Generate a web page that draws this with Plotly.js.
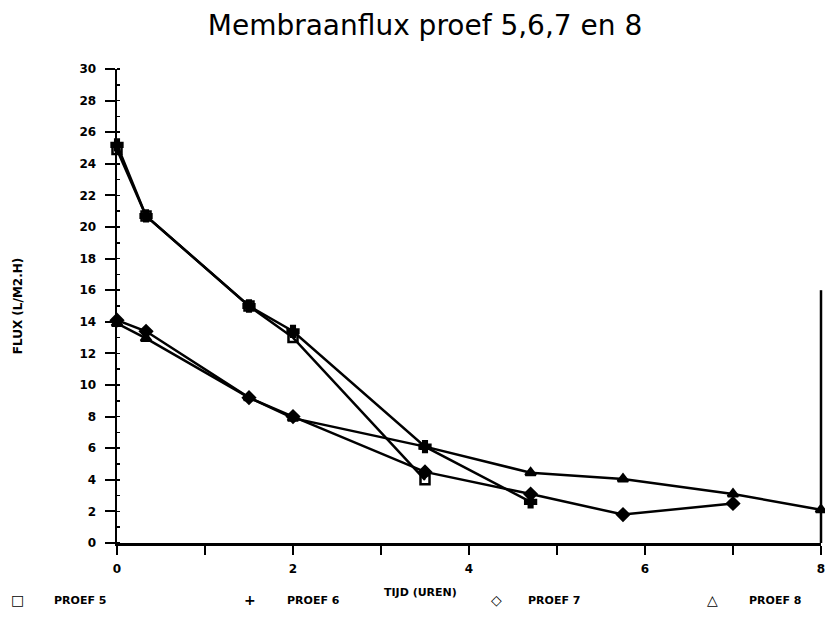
<!DOCTYPE html>
<html>
<head>
<meta charset="utf-8">
<script src="https://cdn.plot.ly/plotly-3.0.1.min.js"></script>
<style>html,body{margin:0;padding:0;background:#fff;}#chart{width:825px;height:623px;}</style>
</head>
<body>
<div id="chart"></div>
<script>
// Data (time in hours, flux in L/m2.h)
const seriesNames = ["PROEF 5", "PROEF 6", "PROEF 7", "PROEF 8"];
const timeP5 = [0, 0.33, 1.5, 2, 3.5];
const fluxP5 = [24.9, 20.7, 15.0, 13.0, 4.0];
const timeP6 = [0, 0.33, 1.5, 2, 3.5, 4.7];
const fluxP6 = [25.2, 20.7, 15.0, 13.4, 6.1, 2.6];
const timeP7 = [0, 0.33, 1.5, 2, 3.5, 4.7, 5.75, 7];
const fluxP7 = [14.1, 13.4, 9.2, 8.0, 4.5, 3.1, 1.8, 2.5];
const timeP8 = [0, 0.33, 1.5, 2, 3.5, 4.7, 5.75, 7, 8];
const fluxP8 = [13.9, 12.95, 9.2, 7.9, 6.1, 4.45, 4.05, 3.1, 2.1];
const legendSymbols = ["\u25A1", "+", "\u25C7", "\u25B3"];
const xTickVals = [0, 2, 4, 6, 8];
const yTickVals = [0, 2, 4, 6, 8, 10, 12, 14, 16, 18, 20, 22, 24, 26, 28, 30];

const black = "#000";
const lineStyle = {color: black, width: 2.5};
function mk(x, y, name, symbol, size) {
  return {
    x: x, y: y, name: name, type: "scatter", mode: "lines+markers",
    line: lineStyle,
    marker: {symbol: symbol, size: size, color: black, line: {color: black, width: 2.5}},
    cliponaxis: false, showlegend: false
  };
}
const traces = [
  mk(timeP5, fluxP5, seriesNames[0], "square-open", 9),
  mk(timeP6, fluxP6, seriesNames[1], "cross", 9),
  mk(timeP7, fluxP7, seriesNames[2], "diamond", 9),
  mk(timeP8, fluxP8, seriesNames[3], "triangle-up", 9)
];

const boldFont = {family: "DejaVu Sans", size: 12, color: black, weight: "bold"};
const legendFont = {family: "DejaVu Sans", size: 11, color: black, weight: "bold"};
const legendSymX = [18, 250, 496, 712];
const legendTxtX = [52, 285, 525, 746];
const legendY = 600;
const annotations = [];
for (let i = 0; i < seriesNames.length; i++) {
  annotations.push({xref: "paper", yref: "paper", x: (legendSymX[i] - 117) / 703, y: -(legendY - 543) / 474,
    text: legendSymbols[i], showarrow: false, xanchor: "center", yanchor: "middle",
    font: {family: "DejaVu Sans", size: 14, color: black, weight: "bold"}});
  annotations.push({xref: "paper", yref: "paper", x: (legendTxtX[i] - 117) / 703, y: -(legendY - 543) / 474,
    text: seriesNames[i], showarrow: false, xanchor: "left", yanchor: "middle", font: legendFont});
}
annotations.push({xref: "paper", yref: "paper", x: (420 - 117) / 703, y: -(592 - 543) / 474,
  text: "TIJD (UREN)", showarrow: false, xanchor: "center", yanchor: "middle", font: legendFont});

const layout = {
  width: 825, height: 623,
  margin: {l: 117, r: 4, t: 69, b: 80},
  paper_bgcolor: "#fff", plot_bgcolor: "#fff",
  showlegend: false,
  title: {text: "Membraanflux proef 5,6,7 en 8", font: {family: "DejaVu Sans", size: 28, color: black},
    xref: "container", x: 425 / 825, xanchor: "center", yref: "container", y: 1 - 25 / 623, yanchor: "middle"},
  xaxis: {
    range: [0, 8], tickvals: xTickVals, ticktext: xTickVals.map(String),
    showline: true, linecolor: black, linewidth: 2.5, mirror: false,
    ticks: "outside", ticklen: 9, tickwidth: 2, tickcolor: black,
    minor: {dtick: 1, tick0: 0, ticks: "outside", ticklen: 9, tickwidth: 2, tickcolor: black},
    showgrid: false, zeroline: false, tickfont: boldFont, ticklabelstandoff: 4,
    ticklabeloverflow: "allow"
  },
  yaxis: {
    range: [0, 30], tickvals: yTickVals, ticktext: yTickVals.map(String),
    showline: true, linecolor: black, linewidth: 2.5,
    ticks: "outside", ticklen: 10, tickwidth: 2, tickcolor: black,
    minor: {dtick: 1, tick0: 0, ticks: "inside", ticklen: 3, tickwidth: 1.5, tickcolor: black},
    showgrid: false, zeroline: false, tickfont: boldFont, ticklabelstandoff: 6,
    title: {text: "FLUX (L/M2.H)", font: boldFont, standoff: 54}
  },
  shapes: [
    {type: "line", xref: "paper", yref: "y", x0: 1, x1: 1, y0: 0, y1: 16, line: {color: black, width: 2.5}}
  ],
  annotations: annotations
};

Plotly.newPlot("chart", traces, layout, {displayModeBar: false, staticPlot: true});
</script>
</body>
</html>
